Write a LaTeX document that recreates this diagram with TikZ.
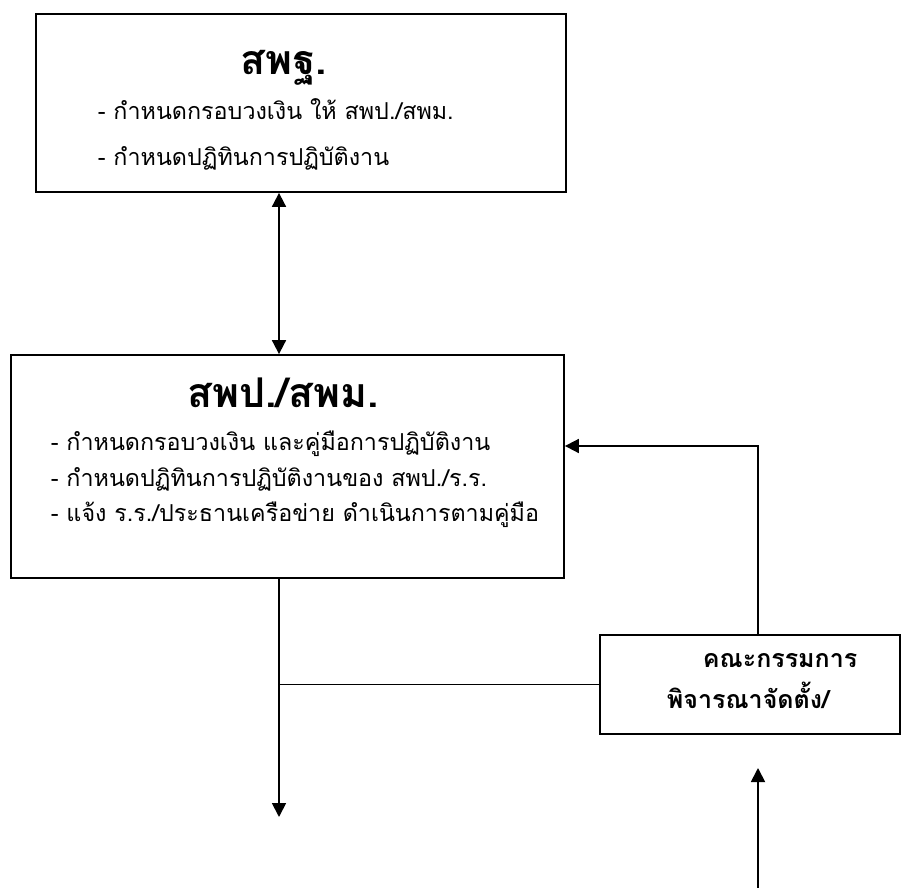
\documentclass[tikz,border=0pt]{standalone}
\usepackage{fontspec}
\newfontfamily\thaifont[Script=Thai]{Loma}
\usetikzlibrary{positioning, arrows.meta}

\tikzset{
    box/.style = {draw, rectangle, inner sep=0pt},
    title/.style = {anchor=base, inner sep=0pt, font=\thaifont\bfseries\fontsize{41}{45}\selectfont},
    item/.style = {anchor=base west, inner sep=0pt, font=\thaifont\fontsize{23.3}{27}\selectfont},
    committee/.style = {anchor=base west, inner sep=0pt, font=\thaifont\bfseries\fontsize{25}{29}\selectfont},
}

\begin{document}
\begin{tikzpicture}[x=1pt, y=-1pt, line width=1.8pt, >={Triangle[length=14pt, width=14pt]}]
    \useasboundingbox (0,0) rectangle (902,888);

    % boxes
    \node[box, minimum width=530pt, minimum height=178pt] (obec) at (301,103) {};
    \node[box, minimum width=553pt, minimum height=223pt] (esa) at (287.5,466.5) {};
    \node[box, minimum width=300pt, minimum height=99pt] (board) at (750,684.5) {};

    % texts
    \node[title] (obecT) at (284,75) {สพฐ.};
    \node[item] (obec1) at (97,120) {- กำหนดกรอบวงเงิน ให้ สพป./สพม.};
    \node[item] (obec2) at (97,165) {- กำหนดปฏิทินการปฏิบัติงาน};

    \node[title] (esaT) at (283,407) {สพป./สพม.};
    \node[item] (esa1) at (50,450) {- กำหนดกรอบวงเงิน และคู่มือการปฏิบัติงาน};
    \node[item] (esa2) at (50,486) {- กำหนดปฏิทินการปฏิบัติงานของ สพป./ร.ร.};
    \node[item] (esa3) at (50,521) {- แจ้ง ร.ร./ประธานเครือข่าย ดำเนินการตามคู่มือ};

    \node[committee] (board1) at (702,667) {คณะกรรมการ};
    \node[committee] (board2) at (666,708) {พิจารณาจัดตั้ง/};

    % connectors
    \coordinate (trunk) at (279,0);
    \coordinate (down) at (279,817);
    \coordinate (back) at (758,446);
    \coordinate (feed) at (758,888);
    \coordinate (feedTip) at (758,768);

    \draw[<->] (obec.south -| trunk) -- (esa.north -| trunk);
    \draw[->] (esa.south -| trunk) -- (down);
    \draw (board.west) -- (board.west -| trunk);
    \draw[->] (board.north -| back) |- (esa.east |- back);
    \draw[->] (feed) -- (feedTip);
\end{tikzpicture}
\end{document}
